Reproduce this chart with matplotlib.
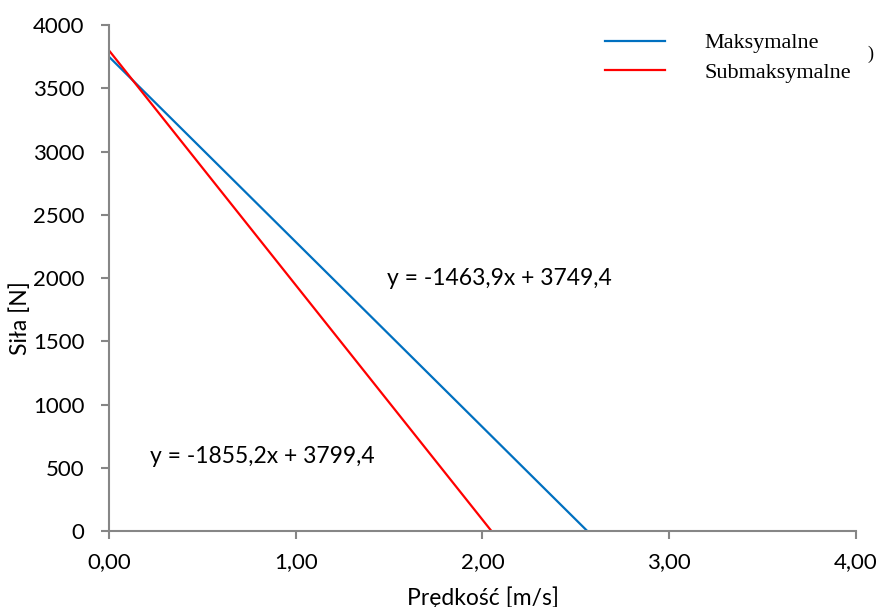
import numpy as np
import matplotlib
matplotlib.use("Agg")
import matplotlib.pyplot as plt

# fitted force-velocity lines: F = slope * v + intercept
series = ["Maksymalne", "Submaksymalne"]
slopes = [-1463.9, -1855.2]
intercepts = [3749.4, 3799.4]
colors = ["#0070C0", "#FF0000"]
eq_labels = ["y = -1463,9x + 3749,4", "y = -1855,2x + 3799,4"]
eq_pos = [(1.49, 2000), (0.22, 590)]

x_ticks = [0, 1, 2, 3, 4]
y_ticks = [0, 500, 1000, 1500, 2000, 2500, 3000, 3500, 4000]

GRAY = "#868686"
SANS = ["Lato", "DejaVu Sans"]

fig = plt.figure(figsize=(8.83, 6.07), dpi=100)
ax = fig.add_axes([0.1234, 0.1252, 0.8460, 0.8336])

lines = []
for name, a, b, c in zip(series, slopes, intercepts, colors):
	v = np.array([0.0, -b / a])   # from v=0 to the zero-force crossing
	ln, = ax.plot(v, a * v + b, color=c, lw=1.6, label=name)
	lines.append(ln)
# end for

for txt, (x, y) in zip(eq_labels, eq_pos):
	ax.text(x, y, txt, fontsize=16.5, family=SANS, va="center", ha="left")

ax.set_xlim(0, 4)
ax.set_ylim(0, 4000)
ax.set_xticks(x_ticks)
ax.set_xticklabels(["{:.2f}".format(t).replace(".", ",") for t in x_ticks])
ax.set_yticks(y_ticks)

for side in ["top", "right"]:
	ax.spines[side].set_visible(False)
for side in ["left", "bottom"]:
	ax.spines[side].set_color(GRAY)
	ax.spines[side].set_linewidth(1.5)
ax.tick_params(direction="out", length=5.5, width=1.5, color=GRAY, labelsize=16)
ax.tick_params(axis="x", pad=10)
ax.tick_params(axis="y", pad=12)
for lbl in ax.get_xticklabels() + ax.get_yticklabels():
	lbl.set_family(SANS)

fig.text(0.0226, 0.476, "Siła [N]", rotation=90, fontsize=16.5, family=SANS, va="center", ha="center")
fig.text(0.547, 0.016, "Prędkość [m/s]", fontsize=16.5, family=SANS, va="center", ha="center")

leg = ax.legend(handles=lines, loc="upper left", bbox_to_anchor=(0.685, 0.946),
	bbox_transform=fig.transFigure, frameon=False, handlelength=2.7, handletextpad=1.8,
	labelspacing=0.4, borderaxespad=0, borderpad=0,
	prop={"family": "Liberation Serif", "size": 16})
fig.text(0.986, 0.91, ")", fontsize=13, family="Liberation Serif", va="center", ha="center")

fig.savefig("out.png", dpi=100)
